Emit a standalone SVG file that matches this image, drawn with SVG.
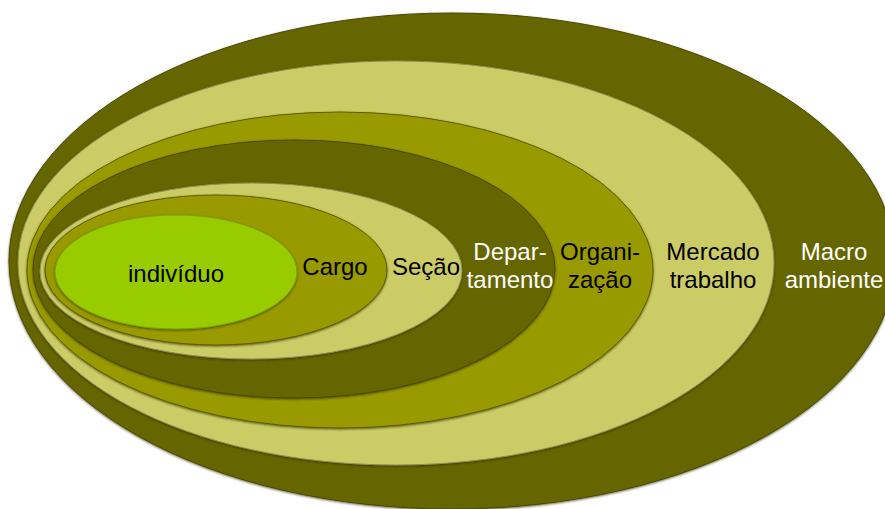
<svg xmlns="http://www.w3.org/2000/svg" width="885" height="509" viewBox="0 0 885 509">
<defs>
<filter id="sh" x="-5%" y="-5%" width="110%" height="112%">
<feDropShadow dx="0" dy="1" stdDeviation="0.8" flood-color="#2a2a00" flood-opacity="0.7"/>
</filter>
</defs>
<style>
.dark{fill:#666600;stroke:#4a4a00;stroke-width:1}
.light{fill:#cccc66;stroke:#8f8f55;stroke-width:1}
.olive{fill:#999900;stroke:#5e5e00;stroke-width:1}
.green{fill:#99cc00;stroke:#7aa300;stroke-width:1}
text{font-family:"Liberation Sans",Arial,sans-serif;font-size:24px;text-anchor:middle}
.b{fill:#000000}
.w{fill:#ffffff}
</style>
<rect width="885" height="509" fill="#ffffff"/>
<g id="macro-ambiente">
<ellipse class="dark" cx="452" cy="261" rx="443" ry="248" filter="url(#sh)"/>
<text class="w" x="834" y="260">Macro</text>
<text class="w" x="834" y="288">ambiente</text>
</g>
<g id="mercado-trabalho">
<ellipse class="light" cx="396" cy="263" rx="378" ry="202" filter="url(#sh)"/>
<text class="b" x="713" y="260">Mercado</text>
<text class="b" x="713" y="288">trabalho</text>
</g>
<g id="organizacao">
<ellipse class="olive" cx="340" cy="270" rx="313" ry="158" filter="url(#sh)"/>
<text class="b" x="600" y="260">Organi-</text>
<text class="b" x="600" y="288">zação</text>
</g>
<g id="departamento">
<ellipse class="dark" cx="294" cy="269" rx="261" ry="129" filter="url(#sh)"/>
<text class="w" x="510" y="260">Depar-</text>
<text class="w" x="510" y="288">tamento</text>
</g>
<g id="secao">
<ellipse class="light" cx="251" cy="271" rx="211" ry="88" filter="url(#sh)"/>
<text class="b" x="426" y="275">Seção</text>
</g>
<g id="cargo">
<ellipse class="olive" cx="216" cy="270" rx="171" ry="75" filter="url(#sh)"/>
<text class="b" x="335" y="275">Cargo</text>
</g>
<g id="individuo">
<ellipse class="green" cx="176" cy="272" rx="121" ry="57" filter="url(#sh)"/>
<text class="b" x="176" y="282">indivíduo</text>
</g>
</svg>
